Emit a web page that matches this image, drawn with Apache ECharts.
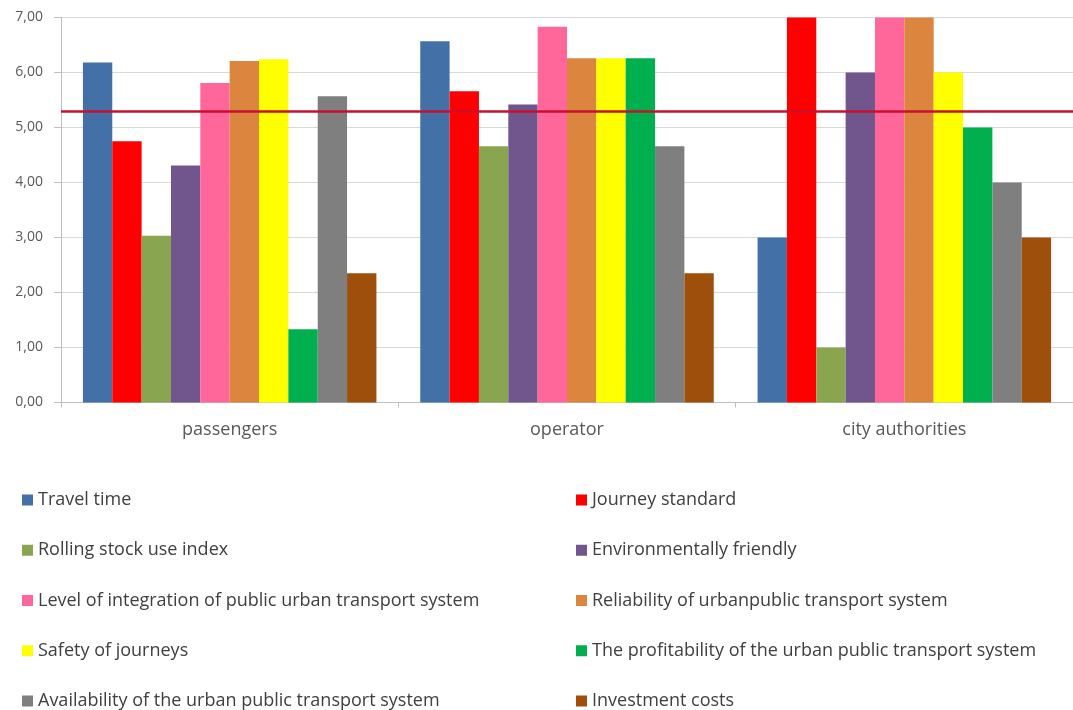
<!DOCTYPE html>
<html>
<head>
<meta charset="utf-8">
<title>Evaluation of urban public transport criteria</title>
<script src="https://cdn.jsdelivr.net/npm/echarts@6/dist/echarts.min.js"></script>
<style>
  html, body { margin: 0; padding: 0; background: #ffffff; }
  #chart { width: 1073px; height: 710px; }
</style>
</head>
<body>
<div id="chart"></div>
<script>
// Stakeholder groups on the x axis
const categories = ['passengers', 'operator', 'city authorities'];

// Criteria (one bar series each), values per group
const travelTime      = [6.18, 6.57, 3.00];
const journeyStandard = [4.75, 5.66, 7.00];
const rollingStock    = [3.03, 4.66, 1.00];
const environmental   = [4.31, 5.42, 6.00];
const integration     = [5.81, 6.83, 7.00];
const reliability     = [6.21, 6.26, 7.00];
const safety          = [6.24, 6.26, 6.00];
const profitability   = [1.33, 6.26, 5.00];
const availability    = [5.57, 4.66, 4.00];
const investment      = [2.35, 2.35, 3.00];

// Reference level drawn as a horizontal red line
const threshold = 5.29;

const seriesNames = [
  'Travel time',
  'Journey standard',
  'Rolling stock use index',
  'Environmentally friendly',
  'Level of integration of public urban transport system',
  'Reliability of urbanpublic transport system',
  'Safety of journeys',
  'The profitability of the urban public transport system',
  'Availability of the urban public transport system',
  'Investment costs'
];
const seriesValues = [
  travelTime, journeyStandard, rollingStock, environmental, integration,
  reliability, safety, profitability, availability, investment
];
const seriesColors = [
  '#4470a8', '#ff0000', '#8aa550', '#70568d', '#ff6699',
  '#dc853e', '#ffff00', '#00b04f', '#7f7f7f', '#9e4f0c'
];

const FONT = '"Open Sans", Lato, sans-serif';

const series = seriesNames.map((name, i) => ({
  name: name,
  type: 'bar',
  data: seriesValues[i],
  barGap: '0%',
  barCategoryGap: '13%',
  itemStyle: { color: seriesColors[i] },
  emphasis: { disabled: true },
  markLine: i === 0 ? {
    silent: true,
    symbol: 'none',
    label: { show: false },
    lineStyle: { color: '#c8102e', width: 2.5, type: 'solid' },
    data: [{ yAxis: threshold }]
  } : undefined
}));

const legendText = { fontFamily: FONT, fontSize: 18, color: '#404040', lineHeight: 18 };

function legendColumn(left, names) {
  return {
    orient: 'vertical',
    left: left,
    top: 491,
    height: 219,
    padding: 0,
    itemWidth: 11,
    itemHeight: 11,
    itemGap: 32.25,
    icon: 'rect',
    textStyle: legendText,
    selectedMode: false,
    data: names
  };
}

const option = {
  backgroundColor: '#ffffff',
  animation: false,
  grid: { left: 61, top: 17.5, width: 1019, height: 385 },
  xAxis: {
    type: 'category',
    data: categories,
    axisLine: { show: true, lineStyle: { color: '#bfbfbf', width: 1 } },
    axisTick: { show: true, length: 5, lineStyle: { color: '#bfbfbf' } },
    axisLabel: { fontFamily: FONT, fontSize: 18, color: '#595959', margin: 18 },
    splitLine: { show: false }
  },
  yAxis: {
    type: 'value',
    min: 0,
    max: 7,
    interval: 1,
    axisLine: { show: true, lineStyle: { color: '#bfbfbf', width: 1 } },
    axisTick: { show: true, length: 7, lineStyle: { color: '#bfbfbf' } },
    axisLabel: {
      fontFamily: FONT, fontSize: 14, color: '#595959', margin: 18,
      formatter: v => v.toFixed(2).replace('.', ',')
    },
    splitLine: { show: true, lineStyle: { color: '#d9d9d9', width: 1 } }
  },
  legend: [
    legendColumn(22, [seriesNames[0], seriesNames[2], seriesNames[4], seriesNames[6], seriesNames[8]]),
    legendColumn(576, [seriesNames[1], seriesNames[3], seriesNames[5], seriesNames[7], seriesNames[9]])
  ],
  series: series
};

const chart = echarts.init(document.getElementById('chart'), null, { renderer: 'canvas' });
chart.setOption(option);
</script>
</body>
</html>
